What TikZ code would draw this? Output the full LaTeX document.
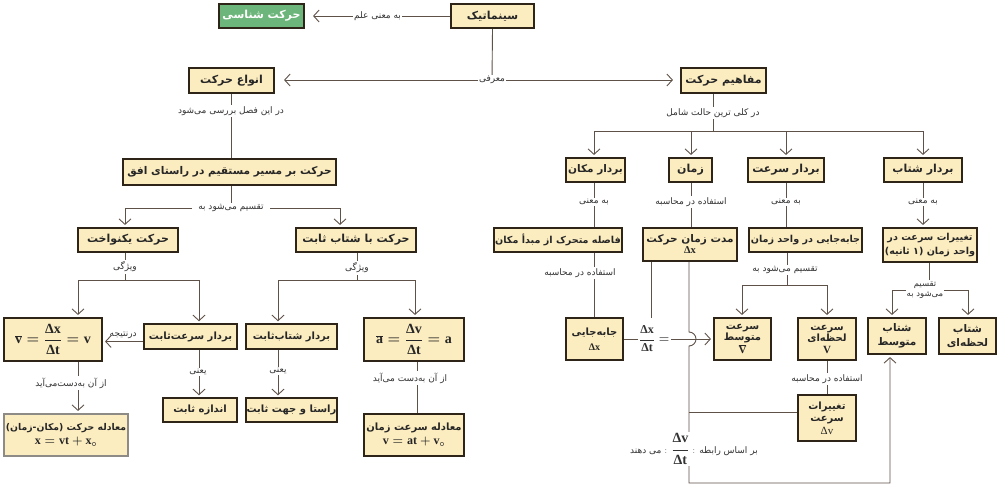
\documentclass[tikz,border=0pt]{standalone}
\usepackage{fontspec}
\usetikzlibrary{arrows.meta,calc}
\TeXXeTstate=1
\newfontfamily\arb[Script=Arabic]{DejaVu Sans}
\newfontfamily\tnr{Liberation Serif}
\newcommand\fa[1]{{\arb\beginR #1\endR}}
\newcommand\tb[1]{\mbox{\tnr\bfseries #1}}
\definecolor{boxfill}{HTML}{FCEDC0}
\definecolor{boxbrd}{HTML}{2E2418}
\definecolor{grfill}{HTML}{6DB67B}
\definecolor{lnc}{HTML}{5E5148}
\definecolor{gybrd}{HTML}{8E8A86}
\tikzset{
 box/.style={draw=boxbrd, line width=2.5pt, fill=boxfill, inner sep=0pt,
   font=\fontsize{11}{13}\selectfont\bfseries, align=center, text=black!85},
 tbox/.style={box, line width=1.9pt, font=\fontsize{10}{12}\selectfont\bfseries},
 gybox/.style={box, draw=gybrd},
 gbx/.style={box, fill=grfill, text=white},
 ln/.style={draw=lnc, line width=0.9pt},
 arr/.style={ln, -{Straight Barb[length=5.5pt,width=12pt,line width=0.9pt]}, shorten >=2pt},
 lab/.style={fill=white, inner sep=1.5pt, font=\fontsize{9}{10}\selectfont, text=black!80, align=center},
}
\newcommand\bx[7]{\node[#1, minimum width={#5-#3-2.4}, minimum height={#6-#4-2.4}] (#2) at ({(#3+#5)/2},{(#4+#6)/2}) {#7};}
\begin{document}
\begin{tikzpicture}[x=1pt,y=-1pt]
\fill[white] (0,0) rectangle (1000,490);
\useasboundingbox (0,0) rectangle (1000,490);
% ---------- boxes
\bx{box}{sin}{450}{3}{535}{29}{\fa{سینماتیک}}
\bx{gbx}{har}{218}{3}{305}{29}{\fa{حرکت شناسی}}
\bx{box}{anva}{188}{67}{275}{94}{\fa{انواع حرکت}}
\bx{box}{maf}{680}{67}{767}{94}{\fa{مفاهیم حرکت}}
\bx{box, font=\fontsize{10.6}{13}\selectfont\bfseries}{mos}{122}{158}{337}{186}{\fa{حرکت بر مسیر مستقیم در راستای افق}}
\bx{box}{yek}{77}{227}{179}{253}{\fa{حرکت یکنواخت}}
\bx{box}{sht}{295}{227}{417}{253}{\fa{حرکت با شتاب ثابت}}
\bx{box, font=\fontsize{14}{16}\selectfont}{fv}{3}{317}{103}{362}{{\boldmath$\overline{\tb{v}}=\displaystyle\frac{\tb{Δx}}{\tb{Δt}}=\tb{v}$}}
\bx{tbox}{brs}{143}{323}{238}{350}{\fa{بردار سرعت‌ثابت}}
\bx{tbox}{and}{162}{397}{238}{423}{\fa{اندازه ثابت}}
\bx{gybox, font=\fontsize{9.3}{14}\selectfont\bfseries}{mh}{3}{413}{129}{457}{\fa{معادله حرکت (مکان-زمان)}\\ {\fontsize{12}{14}\selectfont\boldmath$\tb{x}=\tb{vt}+\tb{x}_{\circ}$}}
\bx{tbox}{bsh}{245}{323}{338}{350}{\fa{بردار شتاب‌ثابت}}
\bx{tbox}{rast}{245}{397}{338}{423}{\fa{راستا و جهت ثابت}}
\bx{box, font=\fontsize{14}{16}\selectfont}{fa}{363}{317}{465}{362}{{\boldmath$\overline{\tb{a}}=\displaystyle\frac{\tb{Δv}}{\tb{Δt}}=\tb{a}$}}
\bx{box, font=\fontsize{10}{14}\selectfont\bfseries}{ms}{363}{413}{465}{457}{\fa{معادله سرعت زمان}\\ {\fontsize{12}{14}\selectfont\boldmath$\tb{v}=\tb{at}+\tb{v}_{\circ}$}}
\bx{box, font=\fontsize{10.5}{12}\selectfont\bfseries}{bmak}{565}{157}{626}{183}{\fa{بردار مکان}}
\bx{box}{zam}{668}{157}{713}{183}{\fa{زمان}}
\bx{box}{bsor}{747}{157}{825}{183}{\fa{بردار سرعت}}
\bx{box}{bsht}{883}{157}{963}{183}{\fa{بردار شتاب}}
\bx{box, font=\fontsize{9.6}{12}\selectfont\bfseries}{fas}{493}{227}{623}{253}{\fa{فاصله متحرک از مبدأ مکان}}
\bx{box, font=\fontsize{10.5}{11}\selectfont\bfseries}{mod}{642}{227}{738}{262}{\fa{مدت زمان حرکت}\\ \tb{Δx}}
\bx{box, font=\fontsize{9.6}{12}\selectfont\bfseries}{jvz}{748}{227}{863}{253}{\fa{جابه‌جایی در واحد زمان}}
\bx{box, font=\fontsize{9.6}{14}\selectfont\bfseries}{tsv}{882}{227}{978}{263}{\fa{تغییرات سرعت در}\\ \fa{واحد زمان (۱ ثانیه)}}
\bx{box, font=\fontsize{10}{15}\selectfont\bfseries}{jab}{565}{317}{624}{361}{\fa{جابه‌جایی}\\ \tb{Δx}}
\bx{box, font=\fontsize{10}{11.5}\selectfont\bfseries}{smot}{713}{317}{772}{361}{\fa{سرعت}\\ \fa{متوسط}\\ {\fontsize{11}{11}\selectfont$\overline{\tb{V}}$}}
\bx{box, font=\fontsize{10}{11.5}\selectfont\bfseries}{slah}{797}{317}{857}{361}{\fa{سرعت}\\ \fa{لحظه‌ای}\\ {\fontsize{11}{11}\selectfont\tb{V}}}
\bx{box, font=\fontsize{10.5}{14}\selectfont\bfseries}{shmot}{867}{317}{927}{355}{\fa{شتاب}\\ \fa{متوسط}}
\bx{box, font=\fontsize{10.5}{14}\selectfont\bfseries}{shlah}{938}{317}{997}{355}{\fa{شتاب}\\ \fa{لحظه‌ای}}
\bx{box, font=\fontsize{10}{12.5}\selectfont\bfseries}{tsr}{797}{394}{857}{442}{\fa{تغییرات}\\ \fa{سرعت}\\ {\fontsize{11}{11}\selectfont\tnr\mdseries Δv}}
% ---------- top connectors
\draw[arr, shorten >=8pt] (sin.west) -- (har.east) node[lab, midway] {\fa{به معنی علم}};
\coordinate (c1) at (492,80);
\draw[ln] (sin.south) -- (c1);
\draw[arr, shorten >=9pt] (c1) -- (anva.east |- c1);
\draw[arr, shorten >=7pt] (c1) -- (maf.west |- c1);
\node[lab] at (c1) {\fa{معرفی}};
% ---------- left branch
\coordinate (c0) at (231,111);
\draw[ln] (anva.south -| c0) -- (c0 |- mos.north);
\node[lab] at (c0) {\fa{در این فصل بررسی می‌شود}};
\coordinate (c2) at (231,208);
\coordinate (c2l) at (125,208);
\coordinate (c2r) at (340,208);
\draw[ln] (mos.south -| c2) -- (c2);
\draw[ln] (c2l) -- (c2r);
\draw[arr] (c2l) -- (c2l |- yek.north);
\draw[arr] (c2r) -- (c2r |- sht.north);
\node[lab, inner xsep=6pt] at (c2) {\fa{تقسیم می‌شود به}};
% uniform motion
\coordinate (c3) at (125,280);
\coordinate (c3l) at (78,280);
\coordinate (c3r) at (199,280);
\draw[ln] (yek.south -| c3) -- (c3);
\draw[ln] (c3l) -- (c3r);
\draw[arr] (c3l) -- (c3l |- fv.north);
\draw[arr] (c3r) -- (c3r |- brs.north);
\node[lab] at (125,267) {\fa{ویژگی}};
\draw[arr] ([yshift=-5pt]brs.west) -- ([yshift=-5pt]brs.west -| fv.east)
  node[midway, above=1.5pt, inner sep=0.5pt, font=\fontsize{9}{10}\selectfont, text=black!80] {\fa{درنتیجه}};
\draw[arr] (fv.south -| c3l) -- (c3l |- mh.north);
\node[lab] at (71,383) {\fa{از آن به‌دست‌می‌آید}};
\draw[arr] (brs.south -| c3r) -- (c3r |- and.north);
\node[lab] at (198,372) {\fa{یعنی}};
% constant acceleration
\coordinate (c5) at (357,280);
\coordinate (c5l) at (278,280);
\coordinate (c5r) at (415,280);
\draw[ln] (sht.south -| c5) -- (c5);
\draw[ln] (c5l) -- (c5r);
\draw[arr] (c5l) -- (c5l |- bsh.north);
\draw[arr] (c5r) -- (c5r |- fa.north);
\node[lab] at (357,268) {\fa{ویژگی}};
\draw[arr] (bsh.south -| c5l) -- (c5l |- rast.north);
\node[lab] at (278,371) {\fa{یعنی}};
\coordinate (c6) at (417,380);
\draw[ln] (fa.south -| c6) -- (c6 |- ms.north);
\node[lab] at (410,378) {\fa{از آن به‌دست می‌آید}};
% ---------- right branch
\coordinate (d1) at (713,131);
\coordinate (d1a) at (594,131);
\coordinate (d1b) at (691,131);
\coordinate (d1c) at (786,131);
\coordinate (d1d) at (923,131);
\draw[ln] (maf.south -| d1) -- (d1);
\draw[ln] (d1a) -- (d1d);
\node[lab] at (713,113) {\fa{در کلی ترین حالت شامل}};
\draw[arr] (d1a) -- (d1a |- bmak.north);
\draw[arr] (d1b) -- (d1b |- zam.north);
\draw[arr] (d1c) -- (d1c |- bsor.north);
\draw[arr] (d1d) -- (d1d |- bsht.north);
\draw[ln] (bmak.south -| d1a) -- (d1a |- fas.north);
\node[lab] at (594,202) {\fa{به معنی}};
\draw[ln] (zam.south -| d1b) -- (d1b |- mod.north);
\node[lab] at (691,202) {\fa{استفاده در محاسبه}};
\draw[ln] (bsor.south -| d1c) -- (d1c |- jvz.north);
\node[lab] at (786,202) {\fa{به معنی}};
\draw[arr] (bsht.south -| d1d) -- (d1d |- tsv.north);
\node[lab] at (923,202) {\fa{به معنی}};
\draw[ln] (fas.south -| d1a) -- (d1a |- jab.north);
\node[lab] at (580,273) {\fa{استفاده در محاسبه}};
% time lines
\coordinate (e1) at (651,318);
\draw[ln] (mod.south -| e1) -- (e1);
\coordinate (e2) at (689,483);
\coordinate (e3) at (890,483);
\coordinate (e4) at (689,412);
\draw[arr] (mod.south -| e2) -- (689,332) arc[start angle=-90, end angle=90, radius=7] -- (e2) -- (e3) -- (e3 |- shmot.south);
\draw[ln] (e4) -- (e4 -| tsr.west);
\draw[arr] (jab.east) -- (smot.west)
  node[lab, pos=0.34, font=\fontsize{12}{13}\selectfont] {{\boldmath$\displaystyle\frac{\tb{Δx}}{\tb{Δt}}=$}};
% velocity split
\coordinate (f1) at (787,285);
\coordinate (f1l) at (742,285);
\coordinate (f1r) at (827,285);
\draw[ln] (jvz.south -| f1) -- (f1);
\draw[ln] (f1l) -- (f1r);
\draw[arr] (f1l) -- (f1l |- smot.north);
\draw[arr] (f1r) -- (f1r |- slah.north);
\node[lab] at (785,270) {\fa{تقسیم می‌شود به}};
% acceleration split
\coordinate (g1) at (929,290);
\coordinate (g1l) at (892,290);
\coordinate (g1r) at (968,290);
\draw[ln] (tsv.south -| g1) -- (g1);
\draw[ln] (g1l) -- (g1r);
\draw[arr] (g1l) -- (g1l |- shmot.north);
\draw[arr] (g1r) -- (g1r |- shlah.north);
\node[lab, font=\fontsize{8.5}{10.5}\selectfont, inner sep=1pt] at (925,290) {\fa{تقسیم}\\ \fa{می‌شود به}};
\draw[ln] (slah.south) -- (tsr.north);
\node[lab] at (827,379) {\fa{استفاده در محاسبه}};
% relation label
\node[lab] at (694,449) {\fa{می دهند} : {\fontsize{14}{16}\selectfont\boldmath$\displaystyle\frac{\tb{Δv}}{\tb{Δt}}$} : \fa{بر اساس رابطه}};
\end{tikzpicture}
\end{document}
